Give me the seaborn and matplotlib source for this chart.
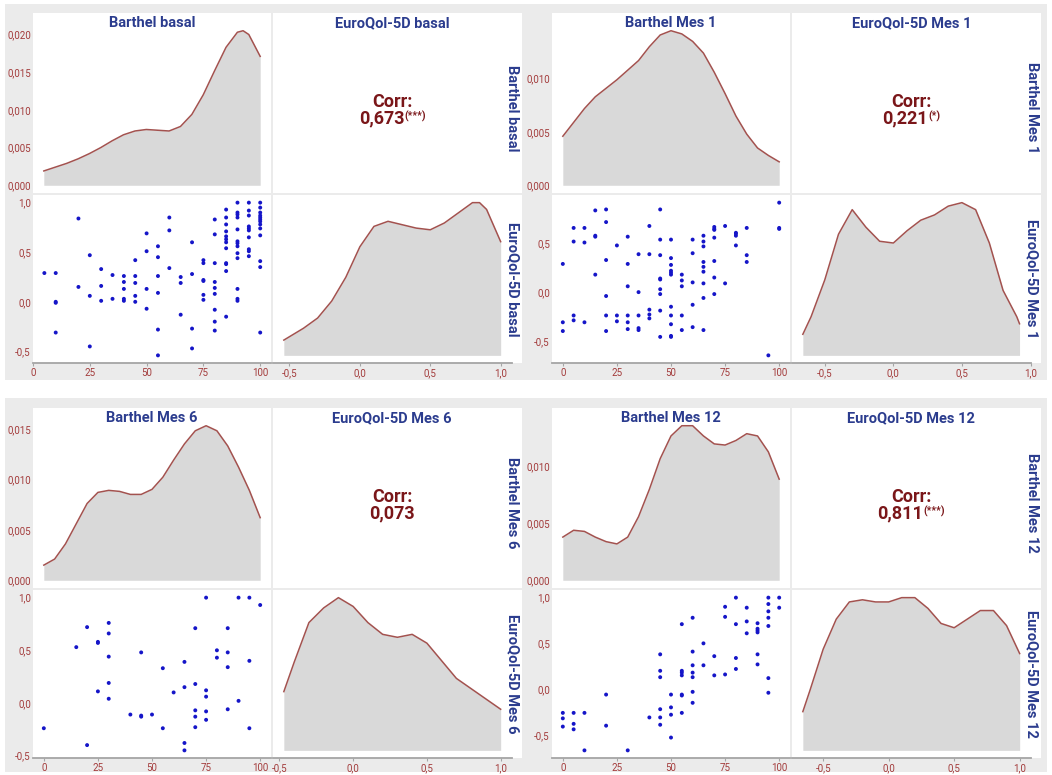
import numpy as np
import pandas as pd
import seaborn as sns
import matplotlib.pyplot as plt
from matplotlib.patches import Rectangle
from matplotlib.ticker import FuncFormatter

# Valeurs
periodes = ["basal", "Mes 1", "Mes 6", "Mes 12"]
corr_valeurs = ["0,673", "0,221", "0,073", "0,811"]
corr_etoiles = ["(***)", "(*)", "", "(***)"]

# nuages de points (Barthel, EuroQol-5D)
barthel_basal = [5, 10, 10, 10, 10, 20, 20, 25, 25, 25, 30, 30, 30, 35, 35, 40, 40, 40, 40, 40,
                 45, 45, 45, 45, 45, 50, 50, 50, 50, 55, 55, 55, 55, 55, 55, 60, 60, 60, 65, 65, 65,
                 70, 70, 70, 70, 75, 75, 75, 75, 75, 75, 80, 80, 80, 80, 80, 80, 80, 80, 80,
                 85, 85, 85, 85, 85, 85, 85, 85, 85, 85, 85, 85,
                 90, 90, 90, 90, 90, 90, 90, 90, 90, 90, 90, 90, 90,
                 95, 95, 95, 95, 95, 95, 95, 95, 95, 95,
                 100, 100, 100, 100, 100, 100, 100, 100, 100, 100, 100, 100, 100]
eq_basal = [0.29, 0.29, 0.0, -0.01, -0.31, 0.84, 0.15, 0.47, 0.06, -0.45, 0.33, 0.16, 0.01, 0.27, 0.03,
            0.26, 0.2, 0.13, 0.03, 0.01, 0.42, 0.26, 0.19, 0.06, 0.0, 0.69, 0.51, 0.13, -0.07,
            0.56, 0.45, 0.26, 0.09, -0.28, -0.54, 0.85, 0.72, 0.34, 0.25, 0.19, -0.13,
            0.6, 0.28, -0.27, -0.47, 0.42, 0.39, 0.22, 0.21, 0.07, 0.02,
            0.83, 0.68, 0.39, 0.2, 0.14, 0.08, -0.08, -0.2, -0.29,
            0.93, 0.85, 0.78, 0.71, 0.66, 0.63, 0.6, 0.54, 0.39, 0.38, 0.31, -0.15,
            1.0, 0.9, 0.88, 0.85, 0.73, 0.61, 0.59, 0.56, 0.49, 0.44, 0.13, 0.03, 0.01,
            1.0, 0.92, 0.87, 0.76, 0.74, 0.72, 0.65, 0.53, 0.51, 0.46,
            1.0, 0.95, 0.9, 0.87, 0.85, 0.83, 0.81, 0.78, 0.74, 0.67, 0.41, 0.35, -0.31]

barthel_mes1 = [0, 0, 0, 5, 5, 5, 5, 10, 10, 10, 15, 15, 15, 15, 20, 20, 20, 20, 20, 20,
                25, 25, 25, 30, 30, 30, 30, 30, 30, 35, 35, 35, 35, 35, 40, 40, 40, 40, 40,
                45, 45, 45, 45, 45, 45, 45, 45, 45, 50, 50, 50, 50, 50, 50, 50, 50, 50, 50, 50,
                55, 55, 55, 55, 55, 60, 60, 60, 60, 60, 65, 65, 65, 65, 65, 65, 65, 65, 65,
                70, 70, 70, 70, 70, 70, 70, 75, 75, 80, 80, 80, 80, 85, 85, 85, 95, 100, 100, 100]
eq_mes1 = [0.29, -0.31, -0.4, 0.66, 0.52, -0.24, -0.29, 0.66, 0.51, -0.31, 0.84, 0.58, 0.57, 0.18,
           0.85, 0.72, 0.33, -0.04, -0.24, -0.4, 0.48, -0.24, -0.3, 0.57, 0.29, 0.06, -0.24, -0.31, -0.38,
           0.39, 0.0, -0.24, -0.37, -0.39, 0.68, 0.39, -0.18, -0.23, -0.27,
           0.85, 0.54, 0.38, 0.14, 0.13, 0.03, -0.02, -0.19, -0.46,
           0.54, 0.35, 0.28, 0.22, 0.2, 0.18, -0.15, -0.24, -0.33, -0.45, -0.46,
           0.18, 0.12, 0.06, -0.24, -0.39, 0.54, 0.4, 0.1, -0.13, -0.36,
           0.58, 0.52, 0.47, 0.31, 0.26, 0.21, 0.09, -0.06, -0.39,
           0.67, 0.65, 0.64, 0.56, 0.32, 0.15, -0.02, 0.68, 0.09, 0.61, 0.6, 0.58, 0.48,
           0.66, 0.38, 0.31, -0.65, 0.92, 0.66, 0.65]

barthel_mes6 = [0, 15, 20, 20, 25, 25, 25, 30, 30, 30, 30, 30, 40, 45, 45, 45, 50, 55, 55, 60,
                65, 65, 65, 65, 70, 70, 70, 70, 70, 75, 75, 75, 75, 75, 80, 80, 85, 85, 85, 85,
                90, 90, 95, 95, 95, 100]
eq_mes6 = [-0.24, 0.53, 0.72, -0.4, 0.58, 0.57, 0.11, 0.76, 0.66, 0.44, 0.19, 0.04, -0.11, 0.48,
           -0.12, -0.13, -0.11, 0.33, -0.24, 0.1, 0.39, 0.15, -0.38, -0.45, 0.71, 0.18, -0.07, -0.13,
           -0.23, 1.0, 0.12, 0.06, -0.08, -0.16, 0.5, 0.43, 0.71, 0.48, 0.34, -0.06, 1.0, 0.02,
           1.0, 0.4, -0.24, 0.93]

barthel_mes12 = [0, 0, 0, 5, 5, 5, 10, 10, 20, 20, 30, 40, 45, 45, 45, 45, 45, 45, 50, 50, 50, 50,
                 55, 55, 55, 55, 55, 55, 55, 60, 60, 60, 60, 60, 60, 60, 65, 65, 70, 70, 75, 75, 75,
                 80, 80, 80, 80, 85, 85, 85, 90, 90, 90, 90, 90, 90,
                 95, 95, 95, 95, 95, 95, 95, 100, 100]
eq_mes12 = [-0.26, -0.32, -0.41, -0.26, -0.38, -0.44, -0.26, -0.67, -0.06, -0.4, -0.67, -0.31,
            0.38, 0.2, 0.13, -0.22, -0.31, -0.39, -0.06, -0.2, -0.28, -0.53,
            0.71, 0.2, 0.18, 0.15, -0.06, -0.07, -0.26, 0.78, 0.41, 0.26, 0.18, 0.13, -0.03, -0.15,
            0.5, 0.26, 0.36, 0.15, 0.9, 0.79, 0.16, 1.0, 0.71, 0.34, 0.22, 0.89, 0.74, 0.61,
            0.72, 0.66, 0.64, 0.62, 0.38, 0.27, 1.0, 0.93, 0.85, 0.78, 0.69, 0.12, -0.04, 1.0, 0.89]

# densites (diagonale)
x_dens_barthel_basal = [5, 10, 15, 20, 25, 30, 35, 40, 45, 50, 55, 60, 65, 70, 75, 80, 85, 90, 92.5, 95, 100]
dens_barthel_basal = [0.0019, 0.0024, 0.0029, 0.0035, 0.0042, 0.0050, 0.0059, 0.0067, 0.0072, 0.0074,
                      0.0073, 0.0072, 0.0078, 0.0094, 0.0120, 0.0152, 0.0183, 0.0203, 0.0205, 0.0200, 0.0171]
x_dens_barthel = [0, 5, 10, 15, 20, 25, 30, 35, 40, 45, 50, 55, 60, 65, 70, 75, 80, 85, 90, 95, 100]
dens_barthel_mes1 = [0.0046, 0.0059, 0.0072, 0.0083, 0.0091, 0.0099, 0.0108, 0.0117, 0.0130, 0.0141, 0.0145,
                     0.0142, 0.0135, 0.0124, 0.0106, 0.0086, 0.0065, 0.0048, 0.0035, 0.0028, 0.0022]
dens_barthel_mes6 = [0.0015, 0.0021, 0.0036, 0.0056, 0.0076, 0.0087, 0.0089, 0.0088, 0.0085, 0.0085, 0.0090,
                     0.0102, 0.0119, 0.0135, 0.0148, 0.0153, 0.0148, 0.0133, 0.0112, 0.0089, 0.0062]
dens_barthel_mes12 = [0.0038, 0.0044, 0.0043, 0.0038, 0.0034, 0.0032, 0.0038, 0.0056, 0.0080, 0.0107, 0.0127,
                      0.0136, 0.0136, 0.0127, 0.0120, 0.0119, 0.0123, 0.0129, 0.0127, 0.0113, 0.0089]

x_dens_eq_basal = [-0.54, -0.5, -0.4, -0.3, -0.2, -0.1, 0.0, 0.1, 0.2, 0.3, 0.4, 0.5, 0.6, 0.7, 0.8, 0.85, 0.9, 1.0]
dens_eq_basal = [0.09, 0.11, 0.16, 0.22, 0.32, 0.46, 0.64, 0.76, 0.79, 0.77, 0.75, 0.74, 0.78, 0.84, 0.90, 0.90, 0.86, 0.67]
x_dens_eq_mes1 = [-0.66, -0.6, -0.5, -0.4, -0.3, -0.2, -0.1, 0.0, 0.1, 0.2, 0.3, 0.4, 0.5, 0.6, 0.7, 0.8, 0.9, 0.92]
dens_eq_mes1 = [0.12, 0.22, 0.43, 0.69, 0.83, 0.73, 0.65, 0.64, 0.71, 0.77, 0.80, 0.85, 0.87, 0.83, 0.64, 0.37, 0.22, 0.18]
x_dens_eq_mes6 = [-0.47, -0.4, -0.3, -0.2, -0.1, 0.0, 0.1, 0.2, 0.3, 0.4, 0.5, 0.6, 0.7, 0.8, 0.9, 1.0]
dens_eq_mes6 = [0.40, 0.60, 0.87, 0.97, 1.04, 0.98, 0.87, 0.79, 0.77, 0.79, 0.73, 0.61, 0.49, 0.42, 0.35, 0.28]
x_dens_eq_mes12 = [-0.655, -0.6, -0.5, -0.4, -0.3, -0.2, -0.1, 0.0, 0.1, 0.2, 0.3, 0.4, 0.5, 0.6, 0.7, 0.8, 0.9, 1.0]
dens_eq_mes12 = [0.18, 0.28, 0.47, 0.61, 0.69, 0.70, 0.69, 0.69, 0.71, 0.71, 0.66, 0.59, 0.57, 0.61, 0.65, 0.65, 0.58, 0.45]

scatter_x = [barthel_basal, barthel_mes1, barthel_mes6, barthel_mes12]
scatter_y = [eq_basal, eq_mes1, eq_mes6, eq_mes12]
dens_b = [(x_dens_barthel_basal, dens_barthel_basal), (x_dens_barthel, dens_barthel_mes1),
          (x_dens_barthel, dens_barthel_mes6), (x_dens_barthel, dens_barthel_mes12)]
dens_e = [(x_dens_eq_basal, dens_eq_basal), (x_dens_eq_mes1, dens_eq_mes1),
          (x_dens_eq_mes6, dens_eq_mes6), (x_dens_eq_mes12, dens_eq_mes12)]

# Style
plt.rcParams['font.family'] = ['Roboto', 'DejaVu Sans']
BLEU = '#2b3c8e'
ROUGE = '#7a1619'
TICK = '#a33b3b'
LIGNE = '#a3524f'
GRIS = '#d9d9d9'
FOND = '#ebebeb'

W, H = 1052, 775
fig = plt.figure(figsize=(W / 100, H / 100), dpi=100)


def boite(x0, y0, x1, y1):
    return [x0 / W, 1 - y1 / H, (x1 - x0) / W, (y1 - y0) / H]


def rect(x0, y0, x1, y1, c, z):
    fig.add_artist(Rectangle((x0 / W, 1 - y1 / H), (x1 - x0) / W, (y1 - y0) / H,
                             transform=fig.transFigure, facecolor=c, edgecolor='none', zorder=z))


def etendre(lo, hi):
    d = hi - lo
    return lo - 0.05 * d, hi + 0.05 * d


def virgule(fmt):
    return FuncFormatter(lambda v, p: (fmt % v).replace('.', ','))


def style(ax, bas=False):
    ax.set_facecolor('none')
    for s in ax.spines.values():
        s.set_visible(False)
    if bas:
        ax.spines['bottom'].set_visible(True)
        ax.spines['bottom'].set_color('#a5a5a5')
        ax.spines['bottom'].set_linewidth(1.3)
    ax.tick_params(axis='both', colors='#a5a5a5', labelcolor=TICK, labelsize=7, length=2, pad=1.5, width=0.8)
    ax.set_xlabel('')
    ax.set_ylabel('')


def densite(ax, xs, ys):
    ax.fill_between(xs, 0, ys, color=GRIS, lw=0)
    sns.lineplot(x=xs, y=ys, ax=ax, color=LIGNE, lw=1.1)
    ax.set_xlim(*etendre(min(xs), max(xs)))
    ax.set_ylim(-0.05 * max(ys), 1.05 * max(ys))


# fonds gris
rect(5, 4, 1047, 380, FOND, -3)
rect(5, 398, 1047, 772, FOND, -3)

origines = [(0, 0), (519, 0), (0, 395), (519, 395)]
textes_corr = []
titre_kw = dict(color=BLEU, fontsize=10.5, fontweight='bold')

for i, (ox, oy) in enumerate(origines):
    c1 = (33 + ox, 271 + ox)
    c2 = (273 + ox, 521.5 + ox)
    r1 = (13 + oy, 193 + oy)
    r2 = (195 + oy, 363 + oy)
    for (x0, x1) in (c1, c2):
        for (y0, y1) in (r1, r2):
            rect(x0, y0, x1, y1, 'white', -2)
    d1 = (c2[0], c2[1] - 10)  # zone de trace de la 2e colonne

    # densite Barthel
    ax = fig.add_axes(boite(c1[0], r1[0] + 10, c1[1], r1[1]))
    xs, ys = dens_b[i]
    densite(ax, xs, ys)
    style(ax)
    ax.set_xticks([])
    ax.set_yticks(np.arange(0, max(ys) + 1e-9, 0.005))
    ax.yaxis.set_major_formatter(virgule('%.3f'))
    ax.tick_params(axis='y', length=0)

    # nuage de points
    ax = fig.add_axes(boite(c1[0], r2[0], c1[1], r2[1]))
    sns.scatterplot(x=scatter_x[i], y=scatter_y[i], ax=ax, color='#1515c8', s=8, edgecolor='none', linewidth=0)
    ax.set_xlim(*etendre(min(scatter_x[i]), max(scatter_x[i])))
    ax.set_ylim(*etendre(min(scatter_y[i]), max(scatter_y[i])))
    style(ax, bas=True)
    ax.set_xticks([0, 25, 50, 75, 100])
    ax.xaxis.set_major_formatter(virgule('%.0f'))
    lo, hi = ax.get_ylim()
    ax.set_yticks([t for t in [-0.5, 0.0, 0.5, 1.0] if lo <= t <= hi])
    ax.yaxis.set_major_formatter(virgule('%.1f'))
    ax.tick_params(axis='y', length=0)

    # densite EuroQol
    ax = fig.add_axes(boite(d1[0], r2[0], d1[1], r2[1]))
    xs, ys = dens_e[i]
    densite(ax, xs, ys)
    style(ax, bas=True)
    ax.set_yticks([])
    ax.set_xticks([-0.5, 0.0, 0.5, 1.0])
    ax.xaxis.set_major_formatter(virgule('%.1f'))

    # titres des colonnes et des lignes
    fig.text((c1[0] + c1[1]) / 2 / W, 1 - (r1[0] + 10) / H, "Barthel " + periodes[i],
             ha='center', va='center', **titre_kw)
    fig.text((d1[0] + d1[1]) / 2 / W, 1 - (r1[0] + 10) / H, "EuroQol-5D " + periodes[i],
             ha='center', va='center', **titre_kw)
    fig.text((c2[1] - 9) / W, 1 - (r1[0] + 10 + r1[1]) / 2 / H, "Barthel " + periodes[i],
             ha='center', va='center', rotation=270, **titre_kw)
    fig.text((c2[1] - 9) / W, 1 - (r2[0] + r2[1]) / 2 / H, "EuroQol-5D " + periodes[i],
             ha='center', va='center', rotation=270, **titre_kw)

    # correlation
    xc = (d1[0] + d1[1]) / 2
    yc = 110 + oy
    fig.text(xc / W, 1 - (yc - 8) / H, "Corr:", ha='center', va='center',
             color=ROUGE, fontsize=13, fontweight='bold')
    num = fig.text(xc / W, 1 - (yc + 8) / H, corr_valeurs[i], ha='center', va='center',
                   color=ROUGE, fontsize=13, fontweight='bold')
    if corr_etoiles[i]:
        sup = fig.text(xc / W, 1 - (yc + 1) / H, corr_etoiles[i], ha='left', va='top',
                       color=ROUGE, fontsize=7.5, fontweight='bold')
        textes_corr.append((xc, num, sup))

# centrage du nombre et de son exposant
r = fig.canvas.get_renderer()
for xc, num, sup in textes_corr:
    wn = num.get_window_extent(r).width
    ws = sup.get_window_extent(r).width
    gauche = xc - (wn + ws) / 2
    num.set_ha('left')
    num.set_x(gauche / W)
    sup.set_x((gauche + wn) / W)

fig.savefig("out.png", dpi=100)
